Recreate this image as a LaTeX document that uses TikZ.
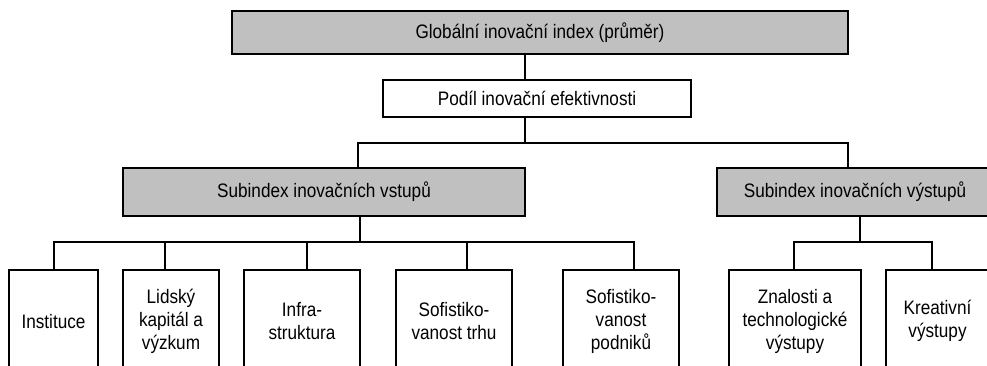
\documentclass[tikz,border=0pt]{standalone}
\usepackage{fontspec}
\setmainfont[FakeStretch=0.88]{Liberation Sans}
\definecolor{boxgray}{RGB}{192,192,192}
\begin{document}
\begin{tikzpicture}[x=1pt,y=-1pt,
  line width=2.4pt,
  box/.style={draw=black, rectangle, inner sep=0pt, align=center,
    font=\fontsize{19.5}{23}\selectfont},
  graybox/.style={box, fill=boxgray},
  leafbox/.style={box, minimum height=102pt, anchor=north}]
\useasboundingbox (0,0) rectangle (987,365);
\clip (0,0) rectangle (987,365);

\node[graybox, minimum width=616pt, minimum height=43pt] (top) at (540,32.5) {Globální inovační index (průměr)};
\node[box, minimum width=308pt, minimum height=37pt] (podil) at (537,98.5) {Podíl inovační efektivnosti};
\node[graybox, minimum width=402pt, minimum height=48pt] (subL) at (324,192) {Subindex inovačních vstupů};
\node[graybox, minimum width=276pt, minimum height=48pt] (subR) at (855,192) {Subindex inovačních výstupů};

\node[leafbox, minimum width=89pt]  (inst)  at (53.5,269) {\rule{0pt}{0pt}};
\node[leafbox, minimum width=96pt]  (lid)   at (171,269) {};
\node[leafbox, minimum width=116pt] (infra) at (302,269) {};
\node[leafbox, minimum width=116pt] (trh)   at (454,269) {};
\node[leafbox, minimum width=116pt] (podn)  at (621,269) {};
\node[leafbox, minimum width=132pt] (znal)  at (795,269) {};
\node[leafbox, minimum width=103pt] (krea)  at (937.5,269) {};

\node[box, draw=none, anchor=center] at (inst.center) {Instituce};
\node[box, draw=none, anchor=center] at (lid.center) {Lidský\\kapitál a\\výzkum};
\node[box, draw=none, anchor=center] at (infra.center) {Infra-\\struktura};
\node[box, draw=none, anchor=center] at (trh.center) {Sofistiko-\\vanost trhu};
\node[box, draw=none, anchor=center] at (podn.center) {Sofistiko-\\vanost\\podniků};
\node[box, draw=none, anchor=center] at (znal.center) {Znalosti a\\technologické\\výstupy};
\node[box, draw=none, anchor=center] at (krea.center) {Kreativní\\výstupy};

% vertical positions of the branches
\coordinate (a) at (525,0);
\coordinate (b) at (0,143);
\coordinate (dL) at (358,0);
\coordinate (dR) at (848,0);
\coordinate (cL) at (360,0);
\coordinate (cR) at (860,0);
\coordinate (h) at (0,242);
\coordinate (x1) at (54,0);
\coordinate (x2) at (165,0);
\coordinate (x3) at (307,0);
\coordinate (x4) at (467,0);
\coordinate (x5) at (634,0);
\coordinate (y1) at (794,0);
\coordinate (y2) at (932,0);

\draw (a |- top.south) -- (a |- podil.north);
\draw (a |- podil.south) -- (a |- b);
\draw (dL |- subL.north) -- (dL |- b) -- (dR |- b) -- (dR |- subR.north);

\draw (cL |- subL.south) -- (cL |- h);
\draw (x1 |- inst.north) -- (x1 |- h) -- (x5 |- h) -- (x5 |- podn.north);
\draw (x2 |- h) -- (x2 |- lid.north);
\draw (x3 |- h) -- (x3 |- infra.north);
\draw (x4 |- h) -- (x4 |- trh.north);

\draw (cR |- subR.south) -- (cR |- h);
\draw (y1 |- znal.north) -- (y1 |- h) -- (y2 |- h) -- (y2 |- krea.north);
\end{tikzpicture}
\end{document}
